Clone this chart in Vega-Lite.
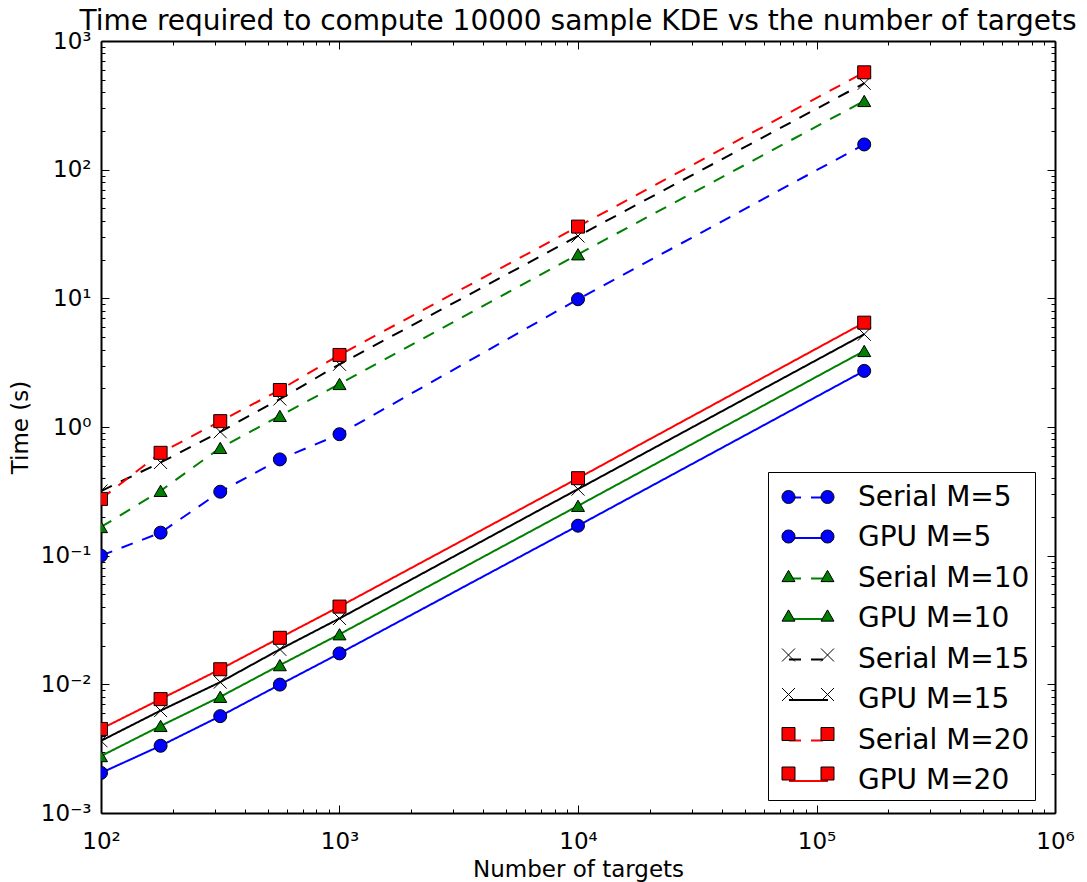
{
  "$schema": "https://vega.github.io/schema/vega-lite/v6.json",
  "width": 954,
  "height": 772,
  "autosize": {"type": "none"},
  "padding": {"left": 101, "top": 41, "right": 32, "bottom": 69},
  "background": "white",
  "title": {"text": "Time required to compute 10000 sample KDE vs the number of targets", "font": "DejaVu Sans", "fontSize": 28, "fontWeight": "normal", "color": "black", "anchor": "middle", "baseline": "alphabetic", "offset": 9, "dy": 37},
  "config": {"view": {"stroke": null}, "font": "DejaVu Sans"},
  "data": {"values": [
    {"n": 100, "t": 0.100, "series": "Serial M=5", "mk": "s5"},
    {"n": 177.8, "t": 0.151, "series": "Serial M=5", "mk": "s5"},
    {"n": 316.2, "t": 0.314, "series": "Serial M=5", "mk": "s5"},
    {"n": 562.3, "t": 0.560, "series": "Serial M=5", "mk": "s5"},
    {"n": 1000, "t": 0.879, "series": "Serial M=5", "mk": "s5"},
    {"n": 10000, "t": 9.84, "series": "Serial M=5", "mk": "s5"},
    {"n": 158500, "t": 157, "series": "Serial M=5", "mk": "s5"},
    {"n": 100, "t": 0.00205, "series": "GPU M=5", "mk": "g5"},
    {"n": 177.8, "t": 0.00333, "series": "GPU M=5", "mk": "g5"},
    {"n": 316.2, "t": 0.00566, "series": "GPU M=5", "mk": "g5"},
    {"n": 562.3, "t": 0.00995, "series": "GPU M=5", "mk": "g5"},
    {"n": 1000, "t": 0.0174, "series": "GPU M=5", "mk": "g5"},
    {"n": 10000, "t": 0.171, "series": "GPU M=5", "mk": "g5"},
    {"n": 158500, "t": 2.73, "series": "GPU M=5", "mk": "g5"},
    {"n": 100, "t": 0.167, "series": "Serial M=10", "mk": "s10"},
    {"n": 177.8, "t": 0.319, "series": "Serial M=10", "mk": "s10"},
    {"n": 316.2, "t": 0.688, "series": "Serial M=10", "mk": "s10"},
    {"n": 562.3, "t": 1.22, "series": "Serial M=10", "mk": "s10"},
    {"n": 1000, "t": 2.16, "series": "Serial M=10", "mk": "s10"},
    {"n": 10000, "t": 22.0, "series": "Serial M=10", "mk": "s10"},
    {"n": 158500, "t": 342, "series": "Serial M=10", "mk": "s10"},
    {"n": 100, "t": 0.00277, "series": "GPU M=10", "mk": "g10"},
    {"n": 177.8, "t": 0.00475, "series": "GPU M=10", "mk": "g10"},
    {"n": 316.2, "t": 0.0080, "series": "GPU M=10", "mk": "g10"},
    {"n": 562.3, "t": 0.0141, "series": "GPU M=10", "mk": "g10"},
    {"n": 1000, "t": 0.0245, "series": "GPU M=10", "mk": "g10"},
    {"n": 10000, "t": 0.244, "series": "GPU M=10", "mk": "g10"},
    {"n": 158500, "t": 3.90, "series": "GPU M=10", "mk": "g10"},
    {"n": 100, "t": 0.318, "series": "Serial M=15", "mk": "s15"},
    {"n": 177.8, "t": 0.530, "series": "Serial M=15", "mk": "s15"},
    {"n": 316.2, "t": 0.918, "series": "Serial M=15", "mk": "s15"},
    {"n": 562.3, "t": 1.65, "series": "Serial M=15", "mk": "s15"},
    {"n": 1000, "t": 3.07, "series": "Serial M=15", "mk": "s15"},
    {"n": 10000, "t": 30.5, "series": "Serial M=15", "mk": "s15"},
    {"n": 158500, "t": 469, "series": "Serial M=15", "mk": "s15"},
    {"n": 100, "t": 0.00364, "series": "GPU M=15", "mk": "g15"},
    {"n": 177.8, "t": 0.00625, "series": "GPU M=15", "mk": "g15"},
    {"n": 316.2, "t": 0.0104, "series": "GPU M=15", "mk": "g15"},
    {"n": 562.3, "t": 0.0187, "series": "GPU M=15", "mk": "g15"},
    {"n": 1000, "t": 0.0325, "series": "GPU M=15", "mk": "g15"},
    {"n": 10000, "t": 0.329, "series": "GPU M=15", "mk": "g15"},
    {"n": 158500, "t": 5.26, "series": "GPU M=15", "mk": "g15"},
    {"n": 100, "t": 0.276, "series": "Serial M=20", "mk": "s20"},
    {"n": 177.8, "t": 0.630, "series": "Serial M=20", "mk": "s20"},
    {"n": 316.2, "t": 1.11, "series": "Serial M=20", "mk": "s20"},
    {"n": 562.3, "t": 1.94, "series": "Serial M=20", "mk": "s20"},
    {"n": 1000, "t": 3.63, "series": "Serial M=20", "mk": "s20"},
    {"n": 10000, "t": 36.1, "series": "Serial M=20", "mk": "s20"},
    {"n": 158500, "t": 571, "series": "Serial M=20", "mk": "s20"},
    {"n": 100, "t": 0.0045, "series": "GPU M=20", "mk": "g20"},
    {"n": 177.8, "t": 0.00768, "series": "GPU M=20", "mk": "g20"},
    {"n": 316.2, "t": 0.0131, "series": "GPU M=20", "mk": "g20"},
    {"n": 562.3, "t": 0.0230, "series": "GPU M=20", "mk": "g20"},
    {"n": 1000, "t": 0.0402, "series": "GPU M=20", "mk": "g20"},
    {"n": 10000, "t": 0.400, "series": "GPU M=20", "mk": "g20"},
    {"n": 158500, "t": 6.47, "series": "GPU M=20", "mk": "g20"}
  ]},
  "layer": [
    {
      "mark": {"type": "line", "strokeWidth": 2, "clip": true},
      "encoding": {
        "x": {"field": "n", "type": "quantitative",
          "scale": {"type": "log", "domain": [100, 1000000]},
          "axis": {"orient": "bottom", "grid": false,
            "values": [100,200,300,400,500,600,700,800,900,1000,2000,3000,4000,5000,6000,7000,8000,9000,10000,20000,30000,40000,50000,60000,70000,80000,90000,100000,200000,300000,400000,500000,600000,700000,800000,900000,1000000],
            "labelExpr": "datum.value == 100 ? '10²' : datum.value == 1000 ? '10³' : datum.value == 10000 ? '10⁴' : datum.value == 100000 ? '10⁵' : datum.value == 1000000 ? '10⁶' : ''",
            "tickSize": {"condition": {"test": "abs(log(datum.value)/LN10 - round(log(datum.value)/LN10)) < 0.001", "value": -8}, "value": -4},
            "tickColor": "black", "tickWidth": 1, "domainColor": "black", "domainWidth": 2,
            "labelFont": "DejaVu Sans", "labelFontSize": 23, "labelColor": "black", "labelPadding": 25,
            "labelOverlap": false, "labelFlush": false, "labelBound": false,
            "title": "Number of targets", "titleFont": "DejaVu Sans", "titleFontSize": 23, "titleFontWeight": "normal", "titleColor": "black", "titlePadding": 1}},
        "y": {"field": "t", "type": "quantitative",
          "scale": {"type": "log", "domain": [0.001, 1000]},
          "axis": {"orient": "left", "grid": false,
            "values": [0.001,0.002,0.003,0.004,0.005,0.006,0.007,0.008,0.009,0.01,0.02,0.03,0.04,0.05,0.06,0.07,0.08,0.09,0.1,0.2,0.3,0.4,0.5,0.6,0.7,0.8,0.9,1,2,3,4,5,6,7,8,9,10,20,30,40,50,60,70,80,90,100,200,300,400,500,600,700,800,900,1000],
            "labelExpr": "datum.value == 0.001 ? '10⁻³' : datum.value == 0.01 ? '10⁻²' : datum.value == 0.1 ? '10⁻¹' : datum.value == 1 ? '10⁰' : datum.value == 10 ? '10¹' : datum.value == 100 ? '10²' : datum.value == 1000 ? '10³' : ''",
            "tickSize": {"condition": {"test": "abs(log(datum.value)/LN10 - round(log(datum.value)/LN10)) < 0.001", "value": -8}, "value": -4},
            "tickColor": "black", "tickWidth": 1, "domainColor": "black", "domainWidth": 2,
            "labelFont": "DejaVu Sans", "labelFontSize": 23, "labelColor": "black", "labelPadding": 18,
            "labelOverlap": false, "labelFlush": false, "labelBound": false,
            "title": "Time (s)", "titleFont": "DejaVu Sans", "titleFontSize": 23, "titleFontWeight": "normal", "titleColor": "black", "titlePadding": 8}},
        "color": {"field": "series", "type": "nominal",
          "scale": {"domain": ["Serial M=5","GPU M=5","Serial M=10","GPU M=10","Serial M=15","GPU M=15","Serial M=20","GPU M=20"],
                    "range": ["#0000ff","#0000ff","#008000","#008000","#000000","#000000","#ff0000","#ff0000"]},
          "legend": {"orient": "none", "legendX": 667, "legendY": 431, "title": null,
            "symbolType": "stroke", "symbolSize": 1521, "symbolStrokeWidth": 2,
            "labelFont": "DejaVu Sans", "labelFontSize": 28, "labelColor": "black", "labelLimit": 400,
            "padding": 5, "symbolOffset": 15, "labelOffset": 29, "rowPadding": 5.5,
            "strokeColor": "black", "fillColor": "white", "cornerRadius": 0}},
        "strokeDash": {"field": "series", "type": "nominal",
          "scale": {"domain": ["Serial M=5","GPU M=5","Serial M=10","GPU M=10","Serial M=15","GPU M=15","Serial M=20","GPU M=20"],
                    "range": [[12,10],[1,0],[12,10],[1,0],[12,10],[1,0],[12,10],[1,0]]}}
      }
    },
    {
      "mark": {"type": "point", "filled": true, "stroke": "black", "strokeWidth": 1, "opacity": 1, "size": 169, "clip": true},
      "encoding": {
        "x": {"field": "n", "type": "quantitative",
          "scale": {"type": "log", "domain": [100, 1000000]},
          "axis": {"orient": "top", "grid": false, "labels": false, "title": null, "minExtent": 0, "maxExtent": 0,
            "values": [100,200,300,400,500,600,700,800,900,1000,2000,3000,4000,5000,6000,7000,8000,9000,10000,20000,30000,40000,50000,60000,70000,80000,90000,100000,200000,300000,400000,500000,600000,700000,800000,900000,1000000],
            "tickSize": {"condition": {"test": "abs(log(datum.value)/LN10 - round(log(datum.value)/LN10)) < 0.001", "value": -8}, "value": -4},
            "tickColor": "black", "tickWidth": 1, "domainColor": "black", "domainWidth": 2}},
        "y": {"field": "t", "type": "quantitative",
          "scale": {"type": "log", "domain": [0.001, 1000]},
          "axis": {"orient": "right", "grid": false, "labels": false, "title": null, "minExtent": 0, "maxExtent": 0,
            "values": [0.001,0.002,0.003,0.004,0.005,0.006,0.007,0.008,0.009,0.01,0.02,0.03,0.04,0.05,0.06,0.07,0.08,0.09,0.1,0.2,0.3,0.4,0.5,0.6,0.7,0.8,0.9,1,2,3,4,5,6,7,8,9,10,20,30,40,50,60,70,80,90,100,200,300,400,500,600,700,800,900,1000],
            "tickSize": {"condition": {"test": "abs(log(datum.value)/LN10 - round(log(datum.value)/LN10)) < 0.001", "value": -8}, "value": -4},
            "tickColor": "black", "tickWidth": 1, "domainColor": "black", "domainWidth": 2}},
        "fill": {"field": "mk", "type": "nominal",
          "scale": {"domain": ["S5","G5","S10","G10","S15","G15","S20","G20","s5","g5","s10","g10","s15","g15","s20","g20"],
                    "range": ["#0000ff","#0000ff","#008000","#008000","transparent","transparent","#ff0000","#ff0000","#0000ff","#0000ff","#008000","#008000","transparent","transparent","#ff0000","#ff0000"]},
          "legend": {"orient": "none", "legendX": 667, "legendY": 431, "title": null,
            "values": ["S5","G5","S10","G10","S15","G15","S20","G20"],
            "symbolSize": 1521, "symbolStrokeWidth": 1, "symbolStrokeColor": "black", "symbolOpacity": 1,
            "labelFont": "DejaVu Sans", "labelFontSize": 28, "labelColor": "black", "labelOpacity": 0, "labelExpr": "' '",
            "padding": 5, "symbolOffset": 15, "labelOffset": 29, "rowPadding": 5.5,
            "strokeColor": null, "fillColor": null}},
        "shape": {"field": "mk", "type": "nominal",
          "scale": {"domain": ["S5","G5","S10","G10","S15","G15","S20","G20","s5","g5","s10","g10","s15","g15","s20","g20"],
                    "range": [
                      "M-1.3333,0A0.3333,0.3333,0,1,0,-0.6667,0A0.3333,0.3333,0,1,0,-1.3333,0Z M0.6667,0A0.3333,0.3333,0,1,0,1.3333,0A0.3333,0.3333,0,1,0,0.6667,0Z",
                      "M-1.3333,0A0.3333,0.3333,0,1,0,-0.6667,0A0.3333,0.3333,0,1,0,-1.3333,0Z M0.6667,0A0.3333,0.3333,0,1,0,1.3333,0A0.3333,0.3333,0,1,0,0.6667,0Z",
                      "M-1,-0.2887L-1.3333,0.2887L-0.6667,0.2887Z M1,-0.2887L0.6667,0.2887L1.3333,0.2887Z",
                      "M-1,-0.2887L-1.3333,0.2887L-0.6667,0.2887Z M1,-0.2887L0.6667,0.2887L1.3333,0.2887Z",
                      "M-1.3333,-0.3333L-0.6667,0.3333M-1.3333,0.3333L-0.6667,-0.3333M0.6667,-0.3333L1.3333,0.3333M0.6667,0.3333L1.3333,-0.3333",
                      "M-1.3333,-0.3333L-0.6667,0.3333M-1.3333,0.3333L-0.6667,-0.3333M0.6667,-0.3333L1.3333,0.3333M0.6667,0.3333L1.3333,-0.3333",
                      "M-1.3333,-0.3333H-0.6667V0.3333H-1.3333Z M0.6667,-0.3333H1.3333V0.3333H0.6667Z",
                      "M-1.3333,-0.3333H-0.6667V0.3333H-1.3333Z M0.6667,-0.3333H1.3333V0.3333H0.6667Z",
                      "circle","circle","triangle-up","triangle-up","M-1,-1L1,1M1,-1L-1,1","M-1,-1L1,1M1,-1L-1,1","square","square"]}}
      }
    }
  ],
  "resolve": {"axis": {"x": "independent", "y": "independent"}}
}
